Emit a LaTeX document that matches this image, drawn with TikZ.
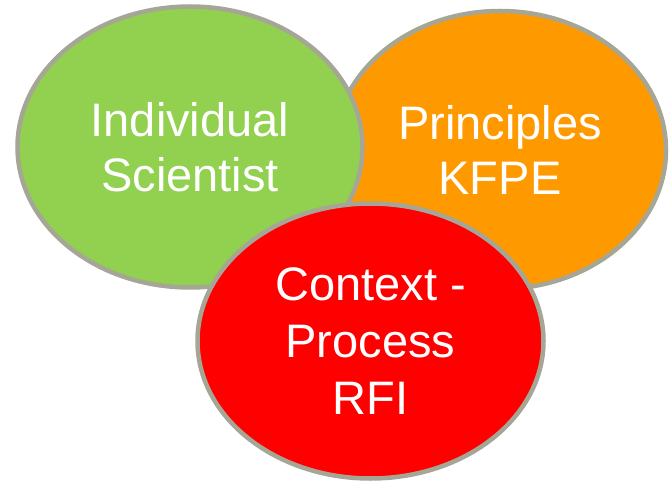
\documentclass[tikz,border=0pt]{standalone}
\usepackage{fontspec}
\setmainfont{Liberation Sans}
\usetikzlibrary{shapes.geometric,positioning}
\definecolor{rimgray}{HTML}{A6A696}
\definecolor{leafgreen}{HTML}{92D050}
\definecolor{amber}{HTML}{FF9900}
\definecolor{signalred}{HTML}{FF0000}

\begin{document}
\begin{tikzpicture}[x=1pt, y=-1pt,
                    blob/.style = {ellipse, draw=rimgray, line width=4.5pt, text=white,
                    align=center, inner sep=0pt,
                    font=\fontsize{47}{55}\selectfont}]
\useasboundingbox (0,0) rectangle (669,486);
    \node[blob, fill=amber, minimum width=332pt, minimum height=278pt] (kfpe) at (500,150) {Principles\\KFPE};
\node[blob, fill=leafgreen, minimum width=345pt, minimum height=281pt] (sci) at (190,147) {Individual\\Scientist};
\node[blob, fill=signalred, minimum width=346pt, minimum height=275pt,
      font=\fontsize{47}{57}\selectfont] (rfi) at (370.5,341) {Context -\\Process\\RFI};
\end{tikzpicture}
\end{document}
